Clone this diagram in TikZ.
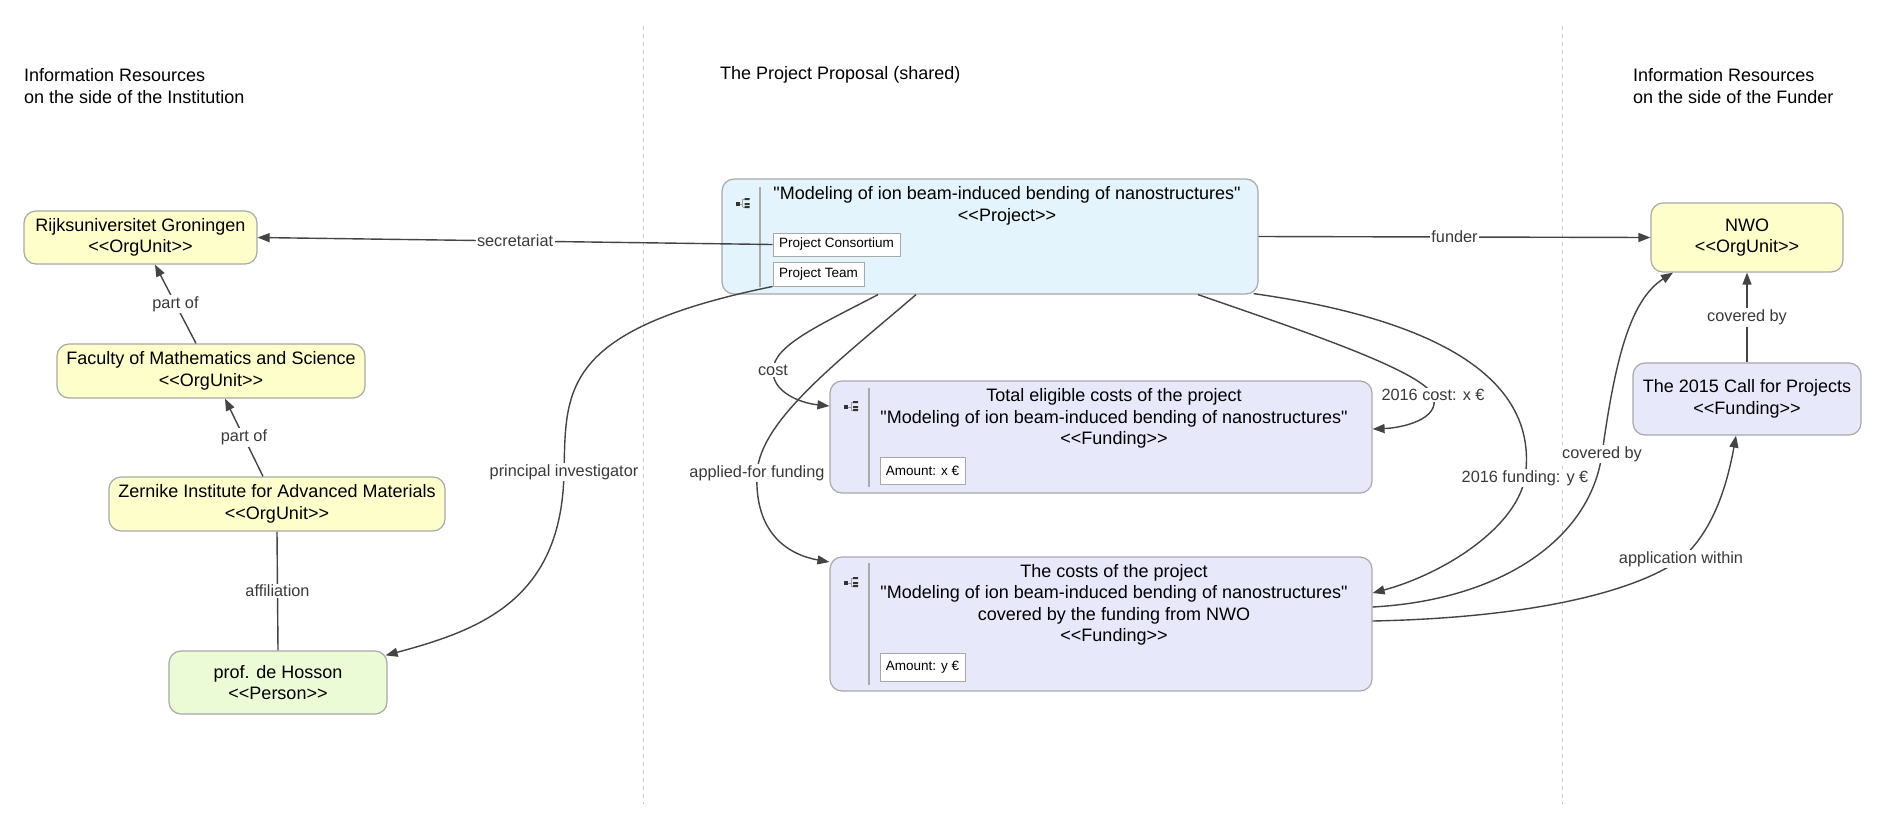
\documentclass[tikz,border=0pt]{standalone}
\usepackage{fontspec}
\setmainfont{Liberation Sans}[Ligatures=TeXOff]
\usetikzlibrary{arrows.meta}
\definecolor{orgyellow}{HTML}{FEFECB}
\definecolor{projblue}{HTML}{E3F4FC}
\definecolor{fundlav}{HTML}{E8E8FB}
\definecolor{persgreen}{HTML}{EAFBD6}
\definecolor{bordergray}{HTML}{A8A8A8}
\definecolor{linecol}{HTML}{444444}
\definecolor{labcol}{HTML}{3A3A3A}
\definecolor{dashcol}{HTML}{C8C8C8}
\definecolor{icondark}{HTML}{333333}
\definecolor{icongray}{HTML}{A0A0A0}
\newcommand\myNodeFont{\fontsize{18}{21.5}\selectfont}
\newcommand\myLabFont{\fontsize{16.3}{19}\selectfont}
\newcommand\mySmallFont{\fontsize{13.5}{16}\selectfont}
\begin{document}
\begin{tikzpicture}[x=1pt,y=-1pt,
  box/.style={draw=bordergray, line width=1.2pt, rounded corners=12pt, inner sep=0pt, align=center, font=\myNodeFont},
  orgbox/.style={box, fill=orgyellow},
  projbox/.style={box, fill=projblue},
  fundbox/.style={box, fill=fundlav},
  persbox/.style={box, fill=persgreen},
  txt/.style={inner sep=0pt, align=center, font=\myNodeFont},
  head/.style={inner sep=0pt, align=left, anchor=west, font=\myNodeFont},
  subbox/.style={draw=bordergray, fill=white, line width=1pt, inner sep=0pt, font=\mySmallFont},
  sepline/.style={draw=icongray!90, line width=1.2pt},
  conn/.style={draw=linecol, line width=1.4pt},
  arr/.style={conn, -{Triangle[length=12pt,width=9pt]}},
  lab/.style={fill=white, inner sep=1.5pt, text=labcol, font=\myLabFont},
  divider/.style={draw=dashcol, line width=1pt, dash pattern=on 4pt off 4pt},
  treeicon/.pic={
    \fill[icondark] (-7,-1) rectangle (-3,3);
    \draw[icongray, line width=0.6pt] (-3,1) -- (0,1) (0,-4) -- (0,4) (0,-4) -- (2,-4) (0,4) -- (2,4);
    \fill[icondark] (2,-5) rectangle (7,-3) (2,0) rectangle (7,2) (2,3) rectangle (7,5);
  }]
\useasboundingbox (0,0) rectangle (1887,831);
\fill[white] (0,0) rectangle (1887,831);

% dividers
\coordinate (d1t) at (643,26); \coordinate (d1b) at (643,804);
\coordinate (d2t) at (1562,26); \coordinate (d2b) at (1562,804);
\draw[divider] (d1t) -- (d1b);
\draw[divider] (d2t) -- (d2b);

% headers
\node[head] (h1) at (24,86) {Information Resources\\on the side of the Institution};
\node[head] (h2) at (720,75) {The Project Proposal (shared)};
\node[head] (h3) at (1633,86) {Information Resources\\on the side of the Funder};

% left column
\node[orgbox, minimum width=233pt, minimum height=53pt] (rug) at (140.5,237.5) {Rijksuniversitet Groningen\\<{}<OrgUnit>{}>};
\node[orgbox, minimum width=308pt, minimum height=54pt] (fac) at (211,371) {Faculty of Mathematics and Science\\<{}<OrgUnit>{}>};
\node[orgbox, minimum width=336pt, minimum height=54pt] (zer) at (277,504) {Zernike Institute for Advanced Materials\\<{}<OrgUnit>{}>};
\node[persbox, minimum width=218pt, minimum height=63pt] (prof) at (278,682.5) {prof. de Hosson\\<{}<Person>{}>};

% project
\node[projbox, minimum width=536pt, minimum height=115pt] (proj) at (990,236.5) {};
\pic at (742.5,203) {treeicon};
\coordinate (ps1) at (760,187); \coordinate (ps2) at (760,287);
\draw[sepline] (ps1) -- (ps2);
\node[txt] (projt) at (1007,206) {"Modeling of ion beam-induced bending of nanostructures"\\<{}<Project>{}>};
\node[subbox, minimum width=127pt, minimum height=23pt] (pc) at (836.5,244.5) {Project Consortium};
\node[subbox, minimum width=91pt, minimum height=24pt] (pt) at (818.5,274) {Project Team};

% total eligible costs
\node[fundbox, minimum width=542pt, minimum height=112pt] (tot) at (1101,437) {};
\pic at (851,406) {treeicon};
\coordinate (ts1) at (869,388); \coordinate (ts2) at (869,487);
\draw[sepline] (ts1) -- (ts2);
\node[txt] (tott) at (1114,418.5) {Total eligible costs of the project\\"Modeling of ion beam-induced bending of nanostructures"\\<{}<Funding>{}>};
\node[subbox, minimum width=85pt, minimum height=27pt] (amx) at (922.5,470.5) {Amount: x €};

% costs covered
\node[fundbox, minimum width=542pt, minimum height=134pt] (cos) at (1101,624) {};
\pic at (851,582) {treeicon};
\coordinate (cs1) at (869,563); \coordinate (cs2) at (869,685);
\draw[sepline] (cs1) -- (cs2);
\node[txt] (cost) at (1114,605) {The costs of the project\\"Modeling of ion beam-induced bending of nanostructures"\\covered by the funding from NWO\\<{}<Funding>{}>};
\node[subbox, minimum width=85pt, minimum height=28pt] (amy) at (922.5,667) {Amount: y €};

% right column
\node[orgbox, minimum width=192pt, minimum height=69pt] (nwo) at (1747,237.5) {NWO\\<{}<OrgUnit>{}>};
\node[fundbox, minimum width=228pt, minimum height=72pt] (call) at (1747,399) {The 2015 Call for Projects\\<{}<Funding>{}>};

% connectors
\draw[arr] ([shift={(-15,0)}]fac.north) -- node[lab] (l1) {part of} ([shift={(14.5,0)}]rug.south);
\draw[arr] ([shift={(-14,0)}]zer.north) -- node[lab] (l2) {part of} ([shift={(14,0)}]fac.south);
\draw[conn] (zer.south) -- node[lab] (l3) {affiliation} (prof.north);
\draw[arr] (pc.west) -- node[lab] (l4) {secretariat} (rug.east);
\draw[arr] (proj.east) -- node[lab] (l5) {funder} (nwo.west);
\draw[arr] (call.north) -- node[lab] (l6) {covered by} (nwo.south);

\draw[arr] (pt.south west) .. controls (560,330) and (566,390) .. (564,472) node[lab] (l7) {principal investigator}
  .. controls (562,600) and (480,630) .. ([shift={(-2,5)}]prof.north east);

\draw[arr] ([shift={(-112,0)}]proj.south) .. controls (820,325) and (774,345) .. (773,370) node[lab] (l8) {cost}
  .. controls (772,392) and (800,403) .. ([shift={(0,-31)}]tot.west);

\draw[arr] ([shift={(-74,0)}]proj.south) .. controls (840,360) and (760,420) .. (757,473) node[lab] (l9) {applied-for funding}
  .. controls (754,535) and (790,555) .. ([shift={(0,-62)}]cos.west);

\draw[arr] ([shift={(208,0)}]proj.south) .. controls (1300,330) and (1420,370) .. (1433,395) node[lab] (l10) {2016 cost: x €}
  .. controls (1442,420) and (1400,428) .. ([shift={(0,-8)}]tot.east);

\draw[arr] ([shift={(-5,-1)}]proj.south east) .. controls (1440,320) and (1540,380) .. (1525,478) node[lab] (l11) {2016 funding: y €}
  .. controls (1515,530) and (1440,575) .. ([shift={(0,-31)}]cos.east);

\draw[arr] ([shift={(0,-17)}]cos.east) .. controls (1500,600) and (1590,540) .. (1602,454) node[lab] (l12) {covered by}
  .. controls (1615,360) and (1630,300) .. ([shift={(-74,0)}]nwo.south);

\draw[arr] ([shift={(0,-3)}]cos.east) .. controls (1520,618) and (1630,595) .. (1681,559) node[lab] (l13) {application within}
  .. controls (1715,530) and (1728,480) .. ([shift={(-11,0)}]call.south);
\end{tikzpicture}
\end{document}
